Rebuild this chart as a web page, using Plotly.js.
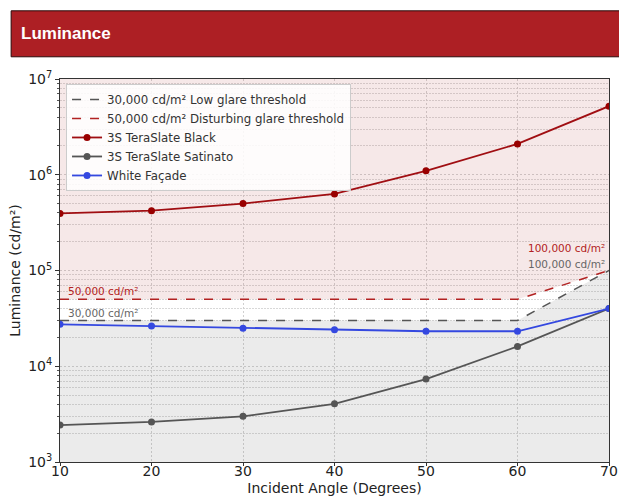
<!DOCTYPE html>
<html>
<head>
<meta charset="utf-8">
<script src="https://cdn.plot.ly/plotly-3.0.1.min.js"></script>
<style>html,body{margin:0;padding:0;background:#fff;}#chart{width:619px;height:498px;}</style>
</head>
<body>
<div id="chart"></div>
<script>
const angles = [10, 20, 30, 40, 50, 60, 70];
const lowGlare = [30000, 30000, 30000, 30000, 30000, 30000, 100000];
const disturbingGlare = [50000, 50000, 50000, 50000, 50000, 50000, 100000];
const teraSlateBlack = [395000, 422000, 500000, 630000, 1100000, 2100000, 5200000];
const teraSlateSatinato = [2430, 2620, 3000, 4050, 7350, 16100, 40000];
const whiteFacade = [27400, 26300, 25000, 24000, 23200, 23200, 40000];
const yMin = 1000, yMax = 10000000;
const yTickVals = [1000, 10000, 100000, 1000000, 10000000];
const yTickText = ['10<sup>3</sup>', '10<sup>4</sup>', '10<sup>5</sup>', '10<sup>6</sup>', '10<sup>7</sup>'];
const xTickVals = [10, 20, 30, 40, 50, 60, 70];
const minorDigits = [2, 3, 4, 5, 6, 7, 8, 9];
const yMinorVals = [];
yTickVals.slice(0, -1).forEach(d => minorDigits.forEach(m => yMinorVals.push(d * m)));

const F = 'DejaVu Sans, sans-serif';
const bottomEdge = angles.map(() => yMin);
const topEdge = angles.map(() => yMax);

const traces = [
  {x: angles, y: bottomEdge, mode: 'lines', line: {width: 0}, showlegend: false, hoverinfo: 'skip'},
  {x: angles, y: lowGlare, mode: 'lines', line: {width: 0}, fill: 'tonexty', fillcolor: 'rgba(128,128,128,0.16)', showlegend: false, hoverinfo: 'skip'},
  {x: angles, y: topEdge, mode: 'lines', line: {width: 0}, showlegend: false, hoverinfo: 'skip'},
  {x: angles, y: disturbingGlare, mode: 'lines', line: {width: 0}, fill: 'tonexty', fillcolor: 'rgba(190,90,90,0.14)', showlegend: false, hoverinfo: 'skip'},
  {x: angles, y: lowGlare, mode: 'lines', name: '30,000 cd/m² Low glare threshold', line: {color: '#555555', width: 1.5, dash: 'dash'}},
  {x: angles, y: disturbingGlare, mode: 'lines', name: '50,000 cd/m² Disturbing glare threshold', line: {color: '#B22222', width: 1.5, dash: 'dash'}},
  {x: angles, y: teraSlateBlack, mode: 'lines+markers', name: '3S TeraSlate Black', line: {color: '#A00E12', width: 1.8}, marker: {color: '#990000', size: 7}},
  {x: angles, y: teraSlateSatinato, mode: 'lines+markers', name: '3S TeraSlate Satinato', line: {color: '#555555', width: 1.8}, marker: {color: '#555555', size: 7}},
  {x: angles, y: whiteFacade, mode: 'lines+markers', name: 'White Façade', line: {color: '#3448E0', width: 1.8}, marker: {color: '#3448E0', size: 7}}
];

const layout = {
  width: 619, height: 498,
  margin: {l: 60, r: 10, t: 79, b: 36},
  paper_bgcolor: '#ffffff', plot_bgcolor: '#ffffff',
  font: {family: F, color: '#222', size: 12},
  showlegend: true,
  legend: {x: 0.011, y: 0.987, xanchor: 'left', yanchor: 'top', traceorder: 'normal', bgcolor: 'rgba(255,255,255,0.85)', bordercolor: '#cccccc', borderwidth: 1, font: {family: F, size: 11.8, color: '#333'}, tracegroupgap: 0, itemwidth: 30},
  xaxis: {
    range: [10, 70], tickvals: xTickVals, ticks: 'outside', ticklen: 3, tickcolor: '#333',
    ticklabelstandoff: -7,
    showgrid: true, gridcolor: '#d0d0d0', griddash: '2px,2px', gridwidth: 1,
    showline: true, linecolor: '#333', linewidth: 1, mirror: true, zeroline: false,
    tickfont: {family: F, size: 14, color: '#222'},
    title: {text: 'Incident Angle (Degrees)', font: {family: F, size: 14, color: '#222'}, standoff: 5}
  },
  yaxis: {
    type: 'log', range: [3, 7], tickvals: yTickVals, ticktext: yTickText,
    ticks: 'outside', ticklen: 4, tickcolor: '#333',
    showgrid: true, gridcolor: '#d0d0d0', griddash: '2px,2px', gridwidth: 1,
    minor: {tickmode: 'array', tickvals: yMinorVals, showgrid: true, gridcolor: '#d8d8d8', griddash: '2px,1px', ticks: 'outside', ticklen: 2, tickcolor: '#555'},
    showline: true, linecolor: '#333', linewidth: 1, mirror: true, zeroline: false,
    tickfont: {family: F, size: 14, color: '#222'},
    title: {text: 'Luminance (cd/m²)', font: {family: F, size: 14, color: '#222'}, standoff: 4}
  },
  shapes: [
    {type: 'rect', xref: 'paper', yref: 'paper', x0: -0.089, x1: 1.03, y0: 1.058, y1: 1.178, fillcolor: '#AD1F24', line: {color: '#2a0a0a', width: 1}, layer: 'above'}
  ],
  annotations: [
    {xref: 'paper', yref: 'paper', x: -0.075, y: 1.118, xanchor: 'left', yanchor: 'middle', text: '<b>Luminance</b>', showarrow: false, font: {family: 'Liberation Sans, Arial, sans-serif', size: 17, color: '#ffffff'}},
    {x: angles[0], y: Math.log10(disturbingGlare[0]), xanchor: 'left', yanchor: 'bottom', xshift: 6, yshift: 0, text: '50,000 cd/m²', showarrow: false, font: {family: F, size: 10.5, color: '#B22222'}},
    {x: angles[0], y: Math.log10(lowGlare[0]), xanchor: 'left', yanchor: 'bottom', xshift: 6, yshift: 0, text: '30,000 cd/m²', showarrow: false, font: {family: F, size: 10.5, color: '#666666'}},
    {x: angles[6], y: Math.log10(disturbingGlare[6]), xanchor: 'right', yanchor: 'middle', xshift: -2, yshift: 23, text: '100,000 cd/m²', showarrow: false, font: {family: F, size: 10.5, color: '#B22222'}},
    {x: angles[6], y: Math.log10(lowGlare[6]), xanchor: 'right', yanchor: 'middle', xshift: -2, yshift: 7, text: '100,000 cd/m²', showarrow: false, font: {family: F, size: 10.5, color: '#666666'}}
  ]
};

Plotly.newPlot('chart', traces, layout, {displayModeBar: false, responsive: false});
</script>
</body>
</html>
